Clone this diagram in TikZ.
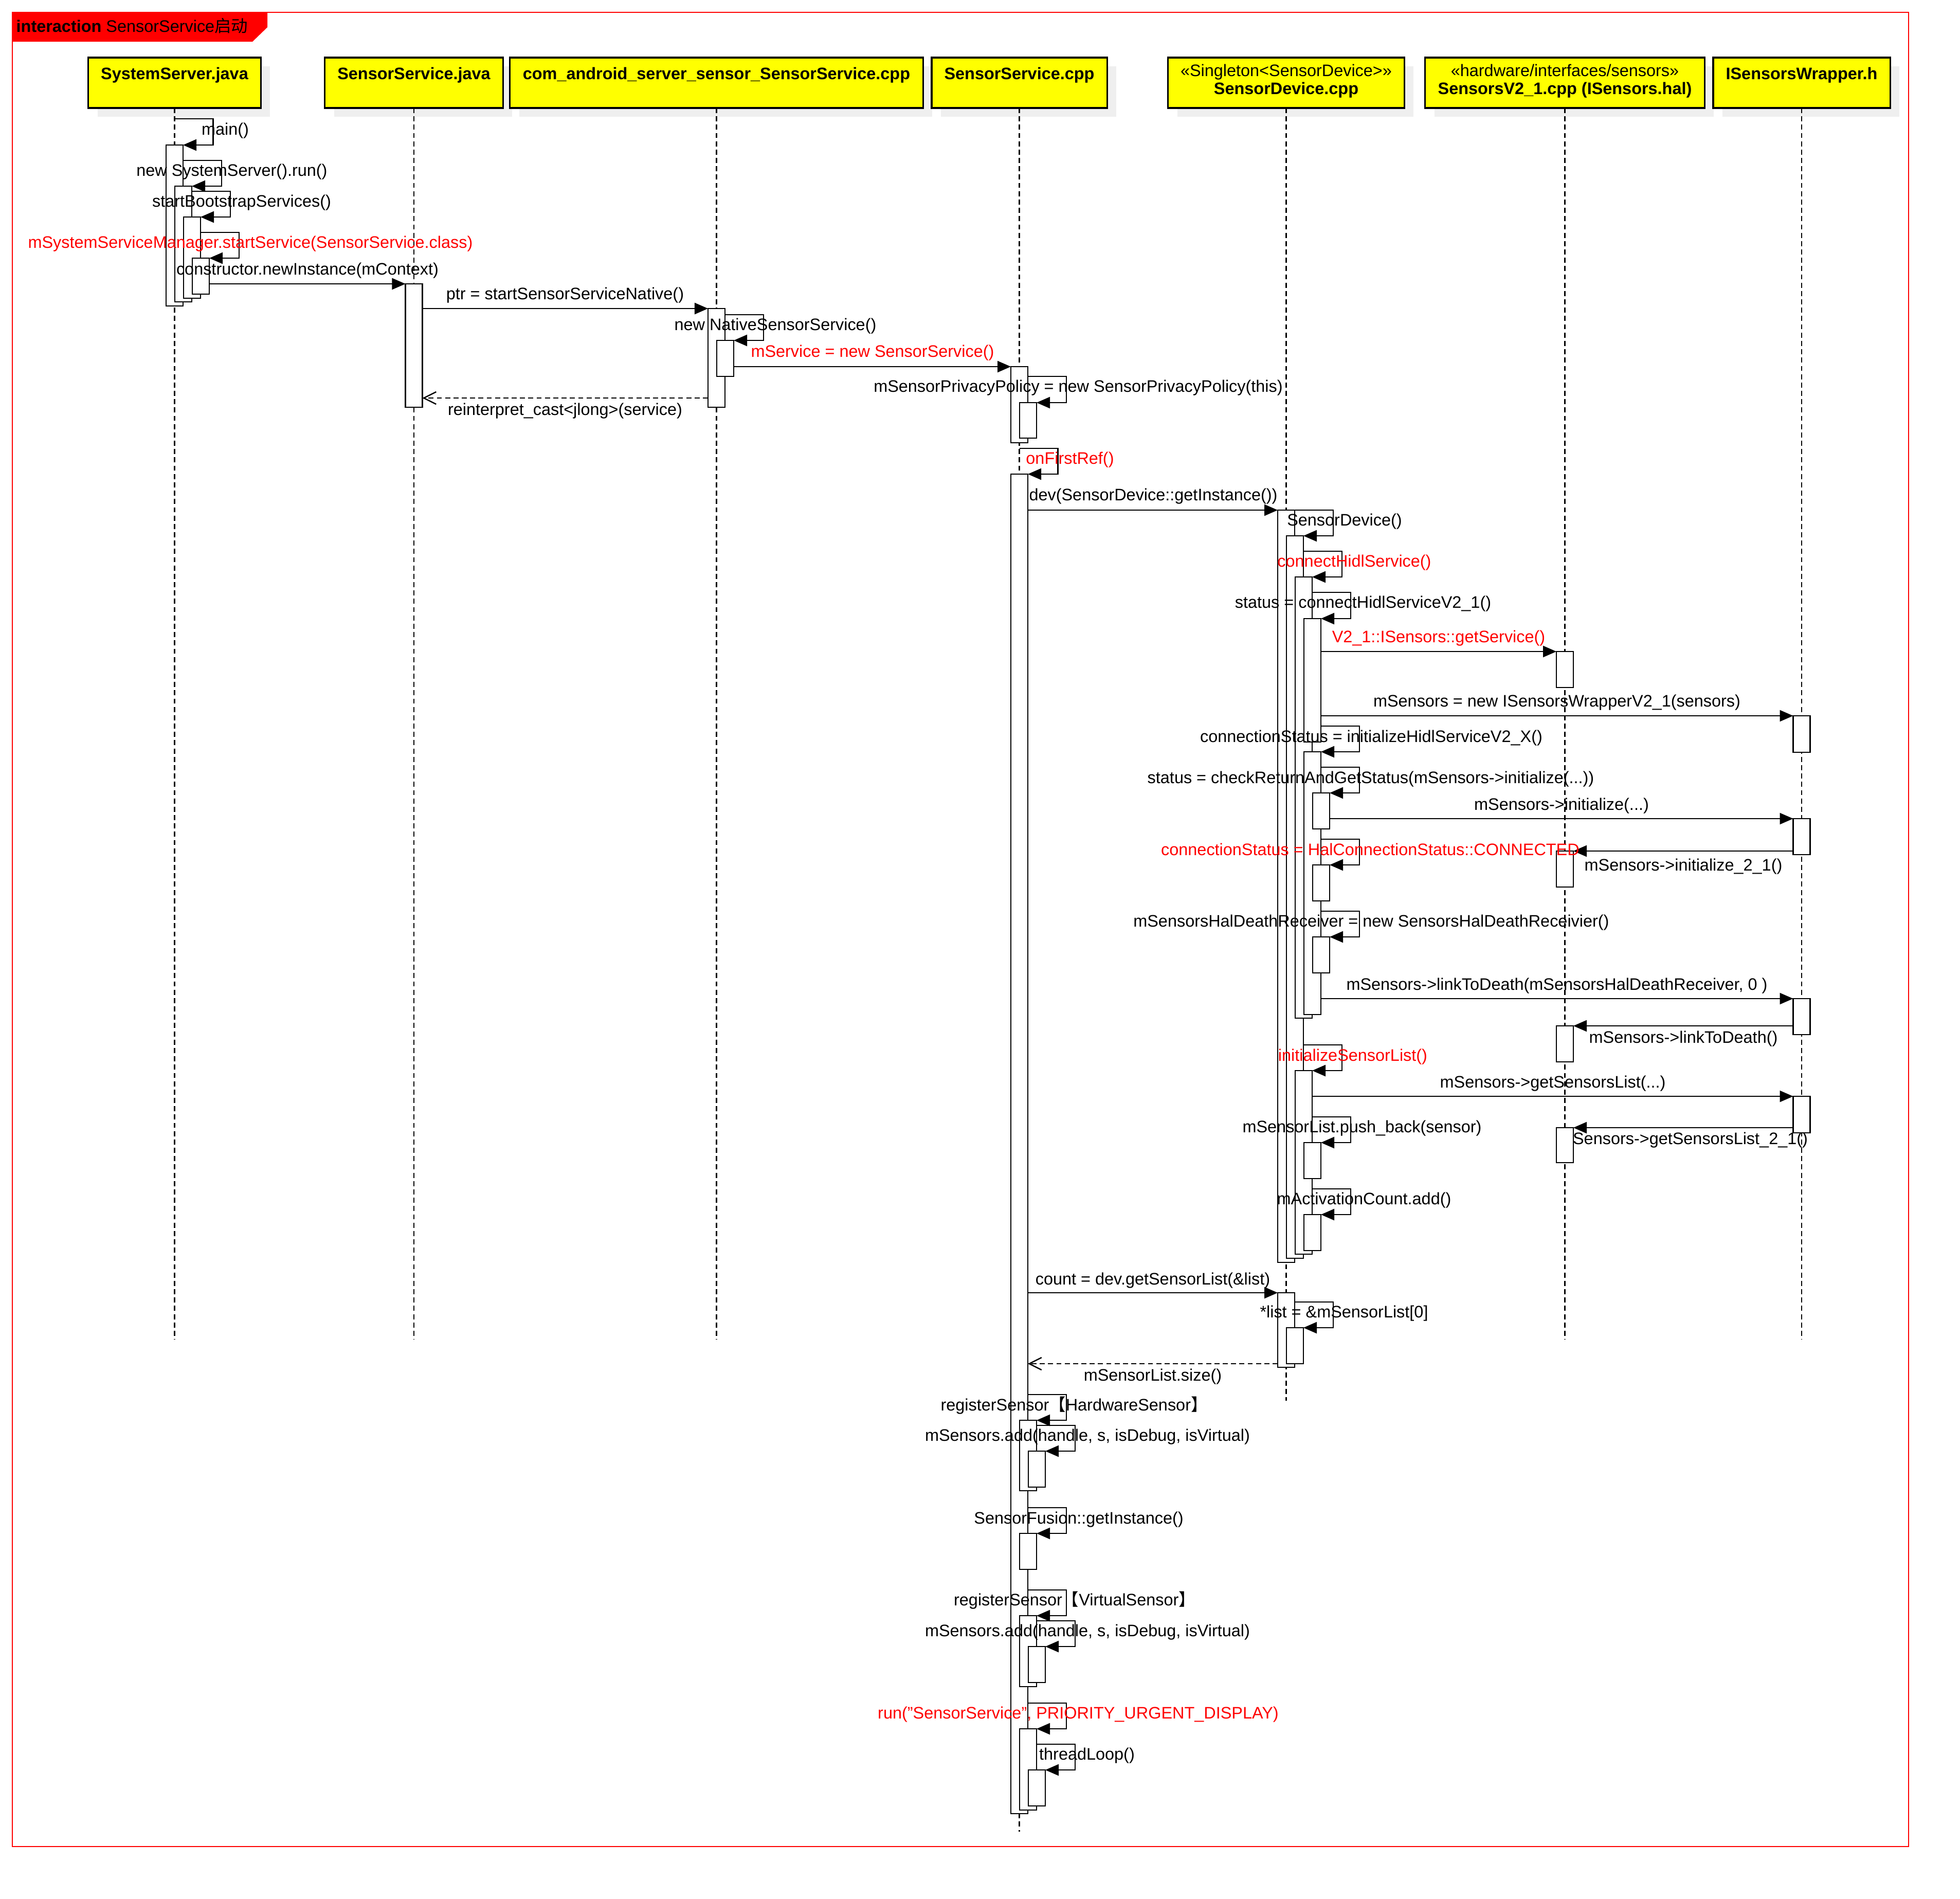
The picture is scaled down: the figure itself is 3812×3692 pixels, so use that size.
\documentclass[tikz,border=0pt]{standalone}
\usepackage{fontspec}
\setmainfont{Liberation Sans}
\newfontfamily\cjkfont{Noto Sans CJK SC}
\usetikzlibrary{arrows.meta}
\definecolor{hdryellow}{HTML}{FFFF00}
\definecolor{shadowgray}{HTML}{EFEFEF}
\definecolor{framered}{HTML}{FF0000}
\newcommand{\lblfont}{\fontsize{9.22}{11}\selectfont}
\newcommand{\abar}[4]{\node[bar, minimum height={(#4-#3)*0.01cm}] (#1) at (#2,{(#3+#4)/2}) {};}
\begin{document}
\begin{tikzpicture}[x=0.01cm,y=-0.01cm,
  lbl/.style={font=\lblfont, inner sep=0pt, text height=0.72em, text depth=0.21em, anchor=center},
  hot/.style={lbl, text=framered},
  bar/.style={draw=black, fill=white, line width=0.75pt, minimum width=0.33cm, inner sep=0pt, outer sep=0pt},
  msg/.style={draw=black, line width=0.7pt, -{Triangle[length=0.26cm, width=0.22cm]}},
  ret/.style={draw=black, line width=0.7pt, dash pattern=on 2.8pt off 1.8pt, -{Straight Barb[length=0.24cm, width=0.24cm]}},
  life/.style={draw=black, line width=0.65pt, dash pattern=on 2.8pt off 1.8pt},
  hdr/.style={draw=black, fill=hdryellow, line width=0.9pt, inner sep=0pt, outer sep=0pt, minimum height=0.98cm},
  hdrtext/.style={font=\lblfont\bfseries, inner sep=0pt, anchor=base},
  stereo/.style={font=\lblfont, inner sep=0pt, anchor=base}]
\useasboundingbox (0,0) rectangle (3812,3692);
\fill[white] (0,0) rectangle (3812,3692);
% frame
\draw[framered, line width=0.65pt] (24,24) rectangle (3712,3591);
\fill[framered] (24,24) -- (520,24) -- (520,53) -- (491,81) -- (24,81) -- cycle;
\node[anchor=base west, inner sep=0pt, font=\lblfont] (title) at (31,62) {\textbf{interaction} SensorService{\cjkfont 启动}};
% header shadows
\fill[shadowgray] (190,129) rectangle (525,227);
\fill[shadowgray] (650,129) rectangle (996,227);
\fill[shadowgray] (1010,129) rectangle (1813,227);
\fill[shadowgray] (1830,129) rectangle (2171,227);
\fill[shadowgray] (2290,129) rectangle (2749,227);
\fill[shadowgray] (2790,129) rectangle (3333,227);
\fill[shadowgray] (3350,129) rectangle (3694,227);
% header boxes
\node[hdr, minimum width=3.35cm] (h1) at (339.5,161) {};
\node[hdr, minimum width=3.46cm] (h2) at (805,161) {};
\node[hdr, minimum width=8.03cm] (h3) at (1393.5,161) {};
\node[hdr, minimum width=3.41cm] (h4) at (1982.5,161) {};
\node[hdr, minimum width=4.59cm] (h5) at (2501.5,161) {};
\node[hdr, minimum width=5.43cm] (h6) at (3043.5,161) {};
\node[hdr, minimum width=3.44cm] (h7) at (3504,161) {};
\node[hdrtext] (n1) at (339.5,154) {SystemServer.java};
\node[hdrtext] (n2) at (805,154) {SensorService.java};
\node[hdrtext] (n3) at (1393.5,154) {com\_android\_server\_sensor\_SensorService.cpp};
\node[hdrtext] (n4) at (1982.5,154) {SensorService.cpp};
\node[stereo] (n5a) at (2501.5,148) {«Singleton<SensorDevice>»};
\node[hdrtext] (n5b) at (2501.5,183) {SensorDevice.cpp};
\node[stereo] (n6a) at (3043.5,148) {«hardware/interfaces/sensors»};
\node[hdrtext] (n6b) at (3043.5,183) {SensorsV2\_1.cpp (ISensors.hal)};
\node[hdrtext] (n7) at (3504,154) {ISensorsWrapper.h};
% lifelines
\coordinate (e1) at (339.5,2605);
\coordinate (e2) at (805,2605);
\coordinate (e3) at (1393.5,2605);
\coordinate (e4) at (1982.5,3562);
\coordinate (e5) at (2501.5,2724);
\coordinate (e6) at (3043.5,2605);
\coordinate (e7) at (3504,2605);
\draw[life] (h1.south) -- (e1);
\draw[life] (h2.south) -- (e2);
\draw[life] (h3.south) -- (e3);
\draw[life] (h4.south) -- (e4);
\draw[life] (h5.south) -- (e5);
\draw[life] (h6.south) -- (e6);
\draw[life] (h7.south) -- (e7);
% label hidden partly by a bar
\node[lbl] (t28) at (3274,2216) {mSensors->getSensorsList\_2\_1()};
% activation bars
\abar{ss0}{339.5}{282}{595}
\abar{ss1}{356.5}{362}{587}
\abar{ss2}{373.5}{422}{580}
\abar{ss3}{390.5}{502}{572}
\abar{ssj}{805}{552}{792}
\abar{com0}{1393.5}{600}{792}
\abar{com1}{1410.5}{662}{732}
\abar{p0}{1982.5}{713}{861}
\abar{p1}{1999.5}{783}{852}
\abar{m0}{1982.5}{922}{3527}
\abar{a1}{2501.5}{992}{2455}
\abar{a2}{2518.5}{1042}{2447}
\abar{a3}{2535.5}{1122}{1980}
\abar{a4}{2552.5}{1203}{1443}
\abar{a5}{2552.5}{1462}{1973}
\abar{c1}{2569.5}{1542}{1612}
\abar{c2}{2569.5}{1682}{1752}
\abar{c3}{2569.5}{1822}{1892}
\abar{a6}{2535.5}{2082}{2439}
\abar{d1}{2552.5}{2222}{2292}
\abar{d2}{2552.5}{2362}{2432}
\abar{a7}{2501.5}{2514}{2659}
\abar{a8}{2518.5}{2582}{2652}
\abar{s1}{3043.5}{1267}{1337}
\abar{s2}{3043.5}{1655}{1725}
\abar{s3}{3043.5}{1995}{2065}
\abar{s4}{3043.5}{2193}{2261}
\abar{w1}{3504}{1392}{1463}
\abar{w2}{3504}{1592}{1662}
\abar{w3}{3504}{1942}{2012}
\abar{w4}{3504}{2132}{2203}
\abar{b1}{1999.5}{2762}{2899}
\abar{b2}{2016.5}{2822}{2892}
\abar{b3}{1999.5}{2982}{3052}
\abar{b4}{1999.5}{3142}{3280}
\abar{b5}{2016.5}{3202}{3272}
\abar{b6}{1999.5}{3362}{3520}
\abar{b7}{2016.5}{3442}{3512}
% messages
\draw[msg] (h1.south |- 0,231) -- ++(75,0) |- (ss0.north east);
\draw[msg] (ss0.east |- 0,312) -- ++(75,0) |- (ss1.north east);
\draw[msg] (ss1.east |- 0,372) -- ++(75,0) |- (ss2.north east);
\draw[msg] (ss2.east |- 0,452) -- ++(75,0) |- (ss3.north east);
\draw[msg] (ss3.east |- 0,552) -- (ssj.north west);
\draw[msg] (ssj.east |- 0,600) -- (com0.north west);
\draw[msg] (com0.east |- 0,612) -- ++(75,0) |- (com1.north east);
\draw[msg] (com1.east |- 0,713) -- (p0.north west);
\draw[msg] (p0.east |- 0,732) -- ++(75,0) |- (p1.north east);
\draw[ret] (com0.west |- 0,774) -- (ssj.east |- 0,774);
\draw[msg] (h4.south |- 0,872) -- ++(75,0) |- (m0.north east);
\draw[msg] (m0.east |- 0,992) -- (a1.north west);
\draw[msg] (a1.north east) -- ++(75,0) |- (a2.north east);
\draw[msg] (a2.east |- 0,1072) -- ++(75,0) |- (a3.north east);
\draw[msg] (a3.east |- 0,1152) -- ++(75,0) |- (a4.north east);
\draw[msg] (a4.east |- 0,1267) -- (s1.north west);
\draw[msg] (a4.east |- 0,1392) -- (w1.north west);
\draw[msg] (a4.east |- 0,1412) -- ++(75,0) |- (a5.north east);
\draw[msg] (a5.east |- 0,1492) -- ++(75,0) |- (c1.north east);
\draw[msg] (c1.east |- 0,1592) -- (w2.north west);
\draw[msg] (w2.west |- 0,1655) -- (s2.north east);
\draw[msg] (a5.east |- 0,1632) -- ++(75,0) |- (c2.north east);
\draw[msg] (a5.east |- 0,1772) -- ++(75,0) |- (c3.north east);
\draw[msg] (a5.east |- 0,1942) -- (w3.north west);
\draw[msg] (w3.west |- 0,1995) -- (s3.north east);
\draw[msg] (a2.east |- 0,2032) -- ++(75,0) |- (a6.north east);
\draw[msg] (a6.east |- 0,2132) -- (w4.north west);
\draw[msg] (w4.west |- 0,2193) -- (s4.north east);
\draw[msg] (a6.east |- 0,2172) -- ++(75,0) |- (d1.north east);
\draw[msg] (a6.east |- 0,2312) -- ++(75,0) |- (d2.north east);
\draw[msg] (m0.east |- 0,2514) -- (a7.north west);
\draw[msg] (a7.east |- 0,2532) -- ++(75,0) |- (a8.north east);
\draw[ret] (a7.west |- 0,2652) -- (m0.east |- 0,2652);
\draw[msg] (m0.east |- 0,2712) -- ++(75,0) |- (b1.north east);
\draw[msg] (b1.east |- 0,2772) -- ++(75,0) |- (b2.north east);
\draw[msg] (m0.east |- 0,2932) -- ++(75,0) |- (b3.north east);
\draw[msg] (m0.east |- 0,3092) -- ++(75,0) |- (b4.north east);
\draw[msg] (b4.east |- 0,3152) -- ++(75,0) |- (b5.north east);
\draw[msg] (m0.east |- 0,3312) -- ++(75,0) |- (b6.north east);
\draw[msg] (b6.east |- 0,3392) -- ++(75,0) |- (b7.north east);
% labels
\node[lbl] (t1) at (438,254) {main()};
\node[lbl] (t2) at (451,334) {new SystemServer().run()};
\node[lbl] (t3) at (470,394) {startBootstrapServices()};
\node[hot] (t4) at (487,474) {mSystemServiceManager.startService(SensorService.class)};
\node[lbl] (t5) at (598,526) {constructor.newInstance(mContext)};
\node[lbl] (t6) at (1099,574) {ptr = startSensorServiceNative()};
\node[lbl] (t7) at (1508,634) {new NativeSensorService()};
\node[hot] (t8) at (1697,686) {mService = new SensorService()};
\node[lbl] (t9) at (2097,754) {mSensorPrivacyPolicy = new SensorPrivacyPolicy(this)};
\node[lbl] (t10) at (1099,799) {reinterpret\_cast<jlong>(service)};
\node[hot] (t11) at (2081,894) {onFirstRef()};
\node[lbl] (t12) at (2243,965) {dev(SensorDevice::getInstance())};
\node[lbl] (t13) at (2615,1014) {SensorDevice()};
\node[hot] (t14) at (2634,1094) {connectHidlService()};
\node[lbl] (t15) at (2651,1174) {status = connectHidlServiceV2\_1()};
\node[hot] (t16) at (2798,1240) {V2\_1::ISensors::getService()};
\node[lbl] (t17) at (3028,1365) {mSensors = new ISensorsWrapperV2\_1(sensors)};
\node[lbl] (t18) at (2667,1434) {connectionStatus = initializeHidlServiceV2\_X()};
\node[lbl] (t19) at (2666,1514) {status = checkReturnAndGetStatus(mSensors->initialize(...))};
\node[lbl] (t20) at (3037,1566) {mSensors->initialize(...)};
\node[hot] (t21) at (2665,1654) {connectionStatus = HalConnectionStatus::CONNECTED};
\node[lbl] (t22) at (3274,1684) {mSensors->initialize\_2\_1()};
\node[lbl] (t23) at (2667,1793) {mSensorsHalDeathReceiver = new SensorsHalDeathReceivier()};
\node[lbl] (t24) at (3028,1916) {mSensors->linkToDeath(mSensorsHalDeathReceiver, 0 )};
\node[lbl] (t25) at (3274,2019) {mSensors->linkToDeath()};
\node[hot] (t26) at (2631,2054) {initializeSensorList()};
\node[lbl] (t27) at (3020,2106) {mSensors->getSensorsList(...)};
\node[lbl] (t29) at (2649,2193) {mSensorList.push\_back(sensor)};
\node[lbl] (t30) at (2653,2333) {mActivationCount.add()};
\node[lbl] (t31) at (2242,2489) {count = dev.getSensorList(\&list)};
\node[lbl] (t32) at (2614,2553) {*list = \&mSensorList[0]};
\node[lbl] (t33) at (2242,2676) {mSensorList.size()};
\node[lbl] (t34) at (2089,2734) {registerSensor{\cjkfont 【}HardwareSensor{\cjkfont 】}};
\node[lbl] (t35) at (2115,2793) {mSensors.add(handle, s, isDebug, isVirtual)};
\node[lbl] (t36) at (2098,2954) {SensorFusion::getInstance()};
\node[lbl] (t37) at (2090,3113) {registerSensor{\cjkfont 【}VirtualSensor{\cjkfont 】}};
\node[lbl] (t38) at (2115,3173) {mSensors.add(handle, s, isDebug, isVirtual)};
\node[hot] (t39) at (2097,3333) {run("SensorService", PRIORITY\_URGENT\_DISPLAY)};
\node[lbl] (t40) at (2114,3413) {threadLoop()};
\end{tikzpicture}
\end{document}
